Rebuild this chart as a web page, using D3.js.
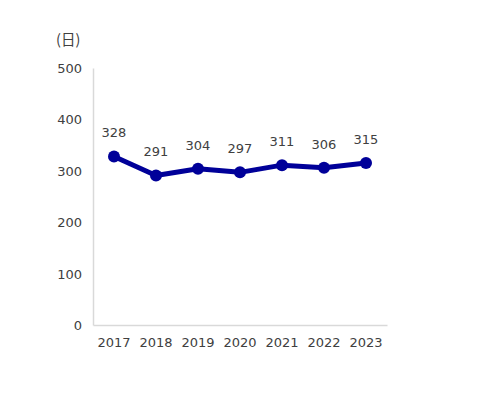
<!DOCTYPE html>
<html>
<head>
<meta charset="utf-8">
<script src="https://cdn.jsdelivr.net/npm/d3@7"></script>
<style>
  body { margin: 0; background: #fff; }
  text { font-family: "DejaVu Sans", Verdana, sans-serif; font-size: 13px; fill: #404040; }
</style>
</head>
<body>
<svg width="480" height="395"></svg>
<script>
var years = ["2017", "2018", "2019", "2020", "2021", "2022", "2023"];
var days = [328, 291, 304, 297, 311, 306, 315];
var yTicks = [0, 100, 200, 300, 400, 500];

var margin = {top: 68, left: 93},
    width = 294,
    height = 257;

var svg = d3.select("svg")
  .append("g")
    .attr("transform", "translate(" + margin.left + "," + margin.top + ")");

var x = d3.scaleBand().domain(years).range([0, width]),
    y = d3.scaleLinear().domain([0, 500]).range([height, 0]);

// y axis
var yAxis = svg.append("g")
    .call(d3.axisLeft(y).tickValues(yTicks).tickSize(0).tickPadding(11));
yAxis.select(".domain").attr("stroke", "#d9d9d9").attr("stroke-width", 1.5);
yAxis.selectAll("text").attr("dy", "0.35em");

// x axis
var xAxis = svg.append("g")
    .attr("transform", "translate(0," + height + ")")
    .call(d3.axisBottom(x).tickSize(0).tickPadding(13));
xAxis.select(".domain").attr("stroke", "#d9d9d9").attr("stroke-width", 1.5);

svg.selectAll(".tick text").style("font-family", "DejaVu Sans, Verdana, sans-serif")
  .style("font-size", "13px").attr("fill", "#404040");

// unit label
svg.append("text")
    .attr("x", -37)
    .attr("y", -23)
    .text("(日)")
    .style("font-family", "Noto Sans CJK JP, sans-serif")
    .style("font-size", "14.5px");

var line = d3.line()
    .x(function(d, i) { return x(years[i]) + x.bandwidth() / 2; })
    .y(function(d) { return y(d); });

svg.append("path")
    .datum(days)
    .attr("fill", "none")
    .attr("stroke", "#000099")
    .attr("stroke-width", 5)
    .attr("stroke-linejoin", "round")
    .attr("d", line);

svg.selectAll(".dot")
    .data(days)
  .enter().append("circle")
    .attr("class", "dot")
    .attr("cx", function(d, i) { return x(years[i]) + x.bandwidth() / 2; })
    .attr("cy", function(d) { return y(d); })
    .attr("r", 6)
    .attr("fill", "#000099");

svg.selectAll(".lbl")
    .data(days)
  .enter().append("text")
    .attr("class", "lbl")
    .attr("x", function(d, i) { return x(years[i]) + x.bandwidth() / 2; })
    .attr("y", function(d) { return y(d) - 19; })
    .attr("text-anchor", "middle")
    .text(function(d) { return d; });
</script>
</body>
</html>
